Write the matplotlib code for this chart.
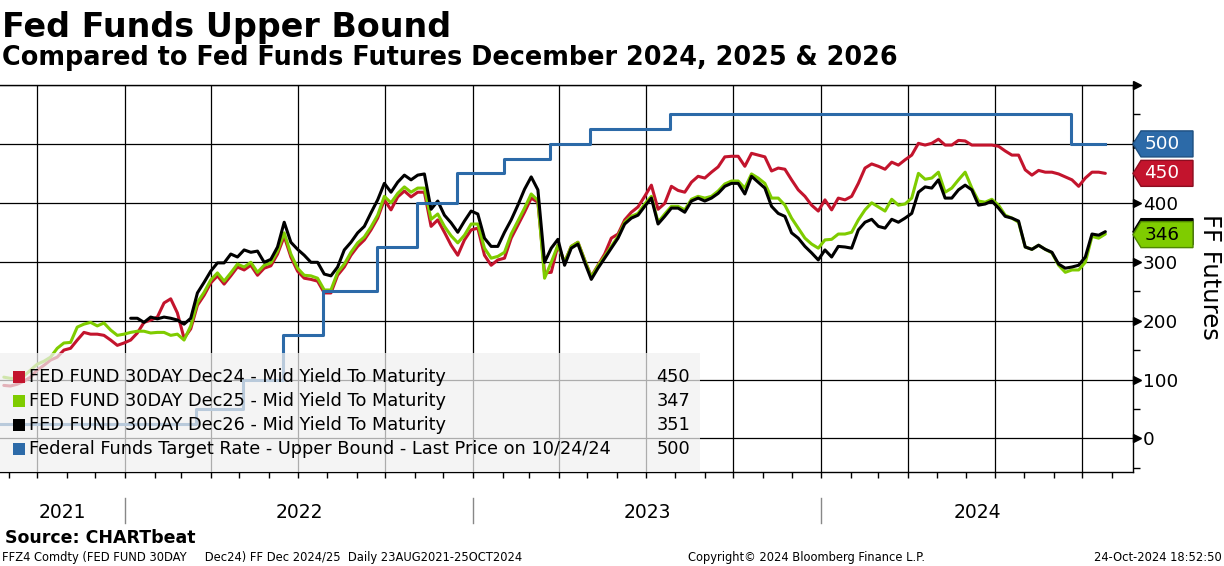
"""Fed funds upper bound vs Dec24/25/26 fed funds futures, Bloomberg-style chart."""

import matplotlib
matplotlib.use("Agg")
import matplotlib.pyplot as plt
import matplotlib.dates as mdates
import matplotlib.transforms as mtransforms
from matplotlib.patches import Polygon, Rectangle
from matplotlib.ticker import MultipleLocator
import pandas as pd

plt.rcParams["font.family"] = ["DejaVu Sans"]

# weekly (Friday) closes, 27 Aug 2021 .. 25 Oct 2024
week_dates = pd.date_range("2021-08-27", "2024-10-25", freq="7D")

dec24 = [90, 89, 92, 97, 104, 116, 124, 133, 138, 150,
         153, 167, 180, 177, 177, 175, 167, 158, 162, 167,
         179, 197, 201, 206, 230, 237, 213, 170, 186, 226,
         243, 264, 276, 262, 276, 291, 286, 294, 277, 289,
         293, 313, 343, 308, 284, 272, 270, 267, 247, 247,
         277, 291, 311, 326, 337, 354, 374, 405, 388, 410,
         420, 410, 418, 418, 360, 371, 350, 328, 311, 337,
         354, 357, 311, 294, 303, 306, 340, 362, 384, 408,
         401, 281, 282, 328, 299, 326, 333, 303, 275, 294,
         313, 340, 347, 371, 384, 393, 411, 430, 389, 399,
         428, 421, 418, 435, 445, 442, 452, 461, 478, 479,
         479, 462, 484, 481, 478, 454, 459, 457, 439, 422,
         411, 396, 386, 405, 388, 408, 405, 411, 433, 459,
         466, 462, 457, 469, 464, 473, 481, 501, 498, 501,
         508, 498, 498, 506, 505, 498, 498, 498, 498, 496,
         488, 481, 481, 456, 447, 455, 452, 452, 449, 444,
         439, 428, 442, 452, 452, 450]

dec25 = [104, 102, 102, 106, 116, 126, 131, 138, 153, 162,
         163, 189, 194, 197, 191, 196, 184, 175, 177, 180,
         182, 182, 179, 180, 180, 175, 177, 167, 191, 231,
         248, 269, 281, 267, 281, 296, 291, 299, 282, 294,
         298, 318, 349, 313, 289, 277, 276, 272, 252, 252,
         282, 296, 316, 332, 342, 359, 379, 411, 400, 416,
         427, 418, 425, 425, 372, 381, 360, 344, 332, 345,
         364, 364, 323, 306, 309, 316, 347, 369, 391, 415,
         404, 272, 299, 328, 299, 326, 333, 303, 274, 293,
         309, 326, 343, 367, 377, 382, 398, 411, 367, 381,
         394, 394, 388, 406, 411, 408, 411, 420, 432, 437,
         437, 425, 449, 442, 433, 408, 408, 396, 374, 357,
         340, 330, 323, 337, 338, 347, 347, 350, 371, 388,
         400, 393, 386, 406, 396, 398, 408, 450, 440, 442,
         452, 418, 425, 439, 452, 425, 403, 401, 406, 396,
         379, 374, 367, 325, 321, 328, 321, 315, 294, 282,
         286, 286, 299, 343, 340, 347]

# Dec26 contract only starts trading in early January 2022
dec26_start = "2022-01-07"
dec26 = [204,
         204, 197, 206, 203, 206, 204, 201, 194, 204, 247,
         265, 284, 298, 298, 313, 308, 320, 316, 318, 299,
         304, 325, 367, 333, 321, 311, 299, 299, 279, 276,
         291, 320, 333, 349, 360, 383, 405, 433, 418, 435,
         447, 439, 447, 449, 389, 403, 379, 366, 350, 369,
         386, 381, 340, 326, 326, 350, 371, 396, 423, 444,
         422, 299, 323, 338, 294, 323, 330, 299, 270, 289,
         306, 323, 340, 364, 374, 379, 394, 408, 364, 377,
         391, 391, 384, 403, 408, 403, 408, 416, 428, 433,
         433, 415, 445, 435, 425, 394, 382, 377, 349, 340,
         326, 315, 303, 320, 308, 326, 325, 323, 354, 367,
         372, 360, 357, 372, 367, 374, 382, 418, 427, 425,
         439, 408, 408, 422, 430, 422, 396, 398, 403, 391,
         377, 374, 369, 325, 321, 328, 321, 316, 296, 289,
         291, 294, 308, 347, 345, 351]

# FOMC decision dates and the new upper bound (bp)
fed_dates = ["2021-08-23", "2022-03-17", "2022-05-05", "2022-06-16", "2022-07-28",
             "2022-09-22", "2022-11-03", "2022-12-15", "2023-02-02", "2023-03-23",
             "2023-05-04", "2023-07-27", "2024-09-19", "2024-10-25"]
fed_upper = [25, 50, 100, 175, 250, 325, 400, 450, 475, 500, 525, 550, 500, 500]

legend_names = ["FED FUND 30DAY Dec24 - Mid Yield To Maturity",
                "FED FUND 30DAY Dec25 - Mid Yield To Maturity",
                "FED FUND 30DAY Dec26 - Mid Yield To Maturity",
                "Federal Funds Target Rate - Upper Bound - Last Price on 10/24/24"]
legend_last = ["450", "347", "351", "500"]

# right-edge value tags: (value, label); the Dec26 tag sits under the Dec25 one
tag_blue = (500, "500")
tag_red = (450, "450")
tag_black = (351, "")
tag_green = (346, "346")

y_ticks = [0, 100, 200, 300, 400, 500, 600]
y_tick_labels = ["0", "100", "200", "300", "400", "", ""]
years = [2021, 2022, 2023, 2024]

RED = "#c3142d"
GREEN = "#7fcc00"
BLUE = "#2c6aa8"
BLACK = "#000000"

W, H = 1224, 566
fig = plt.figure(figsize=(W / 100, H / 100), dpi=100)
ax = fig.add_axes([0, 1 - 472 / H, 1133 / W, (472 - 85) / H])

fed_x = pd.to_datetime(fed_dates)
dec26_dates = week_dates[week_dates >= dec26_start]

line_kw = dict(lw=2.2, solid_joinstyle="round", solid_capstyle="round")
ax.plot(week_dates, dec24, color=RED, zorder=2, **line_kw)
ax.plot(week_dates, dec25, color=GREEN, zorder=3, **line_kw)
ax.plot(dec26_dates, dec26, color=BLACK, zorder=4, **line_kw)
ax.plot(fed_x, fed_upper, color=BLUE, drawstyle="steps-post", zorder=5, lw=2.2)

ax.set_xlim(pd.Timestamp("2021-08-23"), pd.Timestamp("2024-11-23"))
ax.set_ylim(-57, 600)

# grid: quarterly verticals, 100bp horizontals
ax.xaxis.set_major_locator(mdates.MonthLocator(bymonth=[1, 4, 7, 10]))
ax.xaxis.set_minor_locator(mdates.MonthLocator())
ax.tick_params(axis="x", which="both", direction="out", length=4, width=1,
               colors="black", labelbottom=False)
ax.yaxis.tick_right()
ax.set_yticks(y_ticks)
ax.set_yticklabels(y_tick_labels)
ax.yaxis.set_minor_locator(MultipleLocator(50))
ax.tick_params(axis="y", which="major", length=0, pad=7, labelsize=13.2)
ax.tick_params(axis="y", which="minor", length=5, width=1, direction="out")
ax.grid(True, which="major", color="black", lw=0.9)
ax.set_axisbelow(True)

for side in ["top", "right", "bottom"]:
    ax.spines[side].set_color("black")
    ax.spines[side].set_linewidth(1)
ax.spines["left"].set_visible(False)

# arrow-shaped major ticks on the right axis
ytrans = mtransforms.blended_transform_factory(ax.transAxes, ax.transData)
for v in y_ticks:
    ax.plot(1.0035, v, marker=">", ms=6, color="black", transform=ytrans, clip_on=False)

# year bands under the axis
xtrans = ax.get_xaxis_transform()
x0, x1 = ax.get_xlim()
for yr in years:
    start = max(mdates.date2num(pd.Timestamp(f"{yr}-01-01")), x0)
    end = min(mdates.date2num(pd.Timestamp(f"{yr + 1}-01-01")), x1)
    ax.text((start + end) / 2, -(518 - 472) / 387, str(yr), transform=xtrans,
            ha="center", va="baseline", fontsize=13.5)
    if yr > years[0]:
        ax.plot([start, start], [-(498 - 472) / 387, -(523 - 472) / 387], color="#888888",
                lw=1, transform=xtrans, clip_on=False)

# legend panel (semi-transparent, like Bloomberg)
ax.add_patch(Rectangle((0, 0), 700 / 1133, (472 - 353) / 387, transform=ax.transAxes,
                       facecolor="#f0f0f0", alpha=0.72, lw=0, zorder=6))
leg_colors = [RED, GREEN, BLACK, BLUE]
for i, (name, val, col) in enumerate(zip(legend_names, legend_last, leg_colors)):
    yc = 1 - (376.7 + i * 24.1) / H
    fig.add_artist(Rectangle((13 / W, yc - 6 / H), 12 / W, 12 / H, transform=fig.transFigure,
                             facecolor=col, lw=0))
    fig.text(29 / W, yc, name, ha="left", va="center", fontsize=12.8)
    fig.text(690 / W, yc, val, ha="right", va="center", fontsize=12.8)


def value_tag(value, label, face, edge, txt):
    yd = ax.transData.transform((0, value))[1] / H
    pts = [(1133, 0), (1141, 13), (1193, 13), (1193, -13), (1141, -13)]
    poly = Polygon([(px / W, yd + py / H) for px, py in pts], closed=True,
                   transform=fig.transFigure, facecolor=face, edgecolor=edge, lw=1)
    fig.add_artist(poly)
    if label:
        fig.text(1162 / W, yd, label, ha="center", va="center", fontsize=13.2, color=txt)


value_tag(*tag_blue, BLUE, "#1d4f80", "white")
value_tag(*tag_red, RED, "#8c0d20", "white")
value_tag(*tag_black, BLACK, BLACK, "white")
value_tag(*tag_green, GREEN, "#4f8800", "black")

fig.text(1210 / W, 1 - 277 / H, "FF Futures", rotation=270, ha="center", va="center",
         fontsize=17.5)

# titles and footers
fig.text(2 / W, 1 - 37 / H, "Fed Funds Upper Bound", fontsize=24, fontweight="bold",
         ha="left", va="baseline")
fig.text(2 / W, 1 - 65 / H, "Compared to Fed Funds Futures December 2024, 2025 & 2026",
         fontsize=18.4, fontweight="bold", ha="left", va="baseline")
fig.text(5 / W, 1 - 543 / H, "Source: CHARTbeat", fontsize=12.5, fontweight="bold",
         ha="left", va="baseline")
fig.text(2 / W, 1 - 561 / H,
         "FFZ4 Comdty (FED FUND 30DAY     Dec24) FF Dec 2024/25  Daily 23AUG2021-25OCT2024",
         fontsize=8.3, ha="left", va="baseline")
fig.text(688 / W, 1 - 561 / H, "Copyright\u00a9 2024 Bloomberg Finance L.P.", fontsize=8.3,
         ha="left", va="baseline")
fig.text(1222 / W, 1 - 561 / H, "24-Oct-2024 18:52:50", fontsize=8.3, ha="right",
         va="baseline")

fig.savefig("out.png", dpi=100)
